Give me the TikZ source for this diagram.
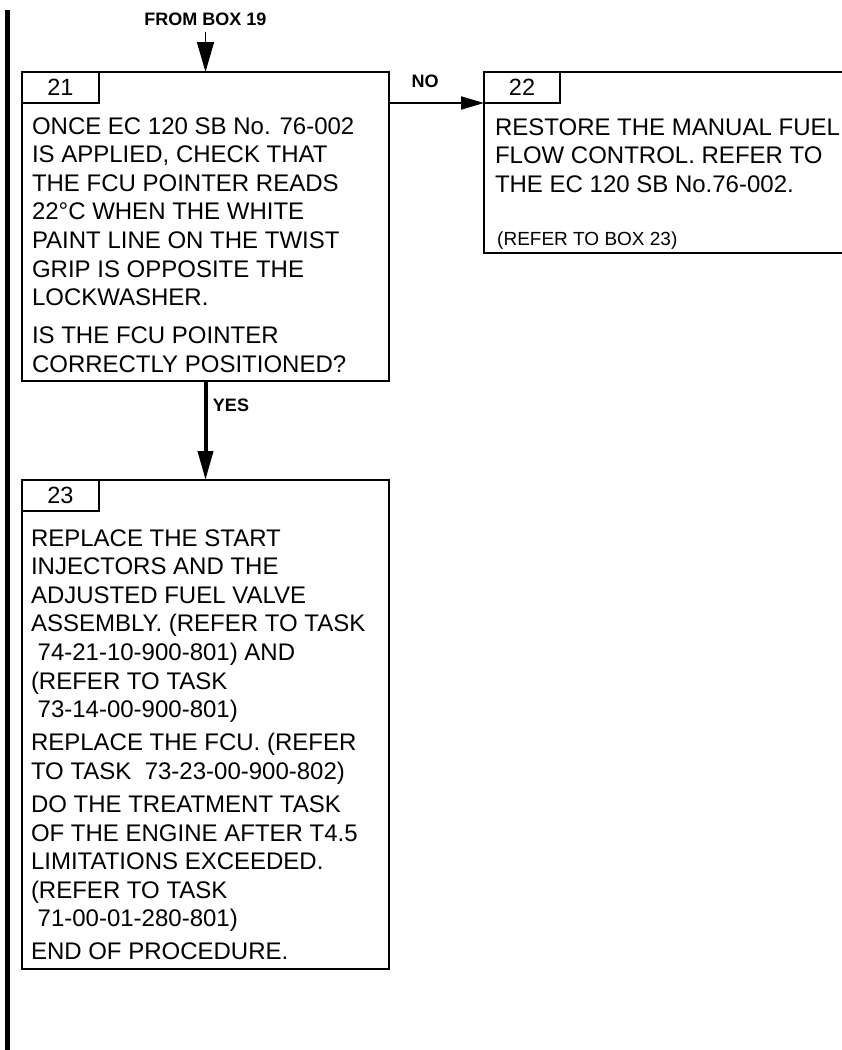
\documentclass[tikz,border=0pt]{standalone}
\usepackage{fontspec}
\setmainfont{Liberation Sans}
\usetikzlibrary{arrows.meta}

% text sizes (1pt = one unit of the drawing)
\newcommand\bodytext{\fontsize{24}{28.6}\selectfont}
\newcommand\labeltext{\fontsize{18}{21}\selectfont\bfseries}
\newcommand\notetext{\fontsize{19}{22}\selectfont}

\tikzset{
  stepframe/.style={draw, line width=2pt, rectangle, inner sep=0pt, outer sep=0pt, anchor=north west},
  numtab/.style={draw, line width=2pt, rectangle, inner sep=0pt, outer sep=0pt, anchor=north west,
                 minimum width=77pt, minimum height=31pt, font=\fontsize{23.5}{26}\selectfont},
  bodynode/.style={anchor=north west, inner sep=0pt, outer sep=0pt, align=left, font=\bodytext},
  notenode/.style={anchor=base west, inner sep=0pt, font=\notetext},
  branchlabel/.style={font=\labeltext, inner sep=0pt},
  feedarrow/.style={-{Triangle[length=30pt,width=17pt]}, line width=1.5pt},
  noarrow/.style={-{Triangle[length=23pt,width=13pt]}, line width=2pt},
  yesarrow/.style={-{Triangle[length=29pt,width=15pt]}, line width=4pt},
}

\begin{document}
\begin{tikzpicture}[x=1pt, y=-1pt]
\useasboundingbox (0,0) rectangle (842,1050);
\begin{scope}
\clip (0,0) rectangle (842,1050);

% margin bar
\coordinate (bartop) at (7,10);
\coordinate (barbot) at (7,1052);
\draw[line width=5pt] (bartop) -- (barbot);

% step 21
\node[stepframe, minimum width=367pt, minimum height=309pt] (b21) at (22,72) {};
\node[numtab] (t21) at (b21.north west) {21};
\node[bodynode] (x21) at ([shift={(10,42)}]b21.north west) {%
\strut ONCE EC 120 SB No. 76-002\\
IS APPLIED, CHECK THAT\\
THE FCU POINTER READS\\
22°C WHEN THE WHITE\\
PAINT LINE ON THE TWIST\\
GRIP IS OPPOSITE THE\\
LOCKWASHER.\\[9.5pt]
IS THE FCU POINTER\\
CORRECTLY POSITIONED?};

% step 22
\node[stepframe, minimum width=380pt, minimum height=181pt] (b22) at (484,72) {};
\node[numtab, minimum width=76pt] (t22) at (b22.north west) {22};
\node[bodynode] (x22) at ([shift={(11,43)}]b22.north west) {%
\strut RESTORE THE MANUAL FUEL\\
FLOW CONTROL. REFER TO\\
THE EC 120 SB No.76-002.};
\node[notenode] (n22) at ([shift={(13,173)}]b22.north west) {(REFER TO BOX 23)};

% step 23
\node[stepframe, minimum width=367pt, minimum height=489pt] (b23) at (22,480) {};
\node[numtab] (t23) at (b23.north west) {23};
\node[bodynode] (x23) at ([shift={(9,46)}]b23.north west) {%
\strut REPLACE THE START\\
INJECTORS AND THE\\
ADJUSTED FUEL VALVE\\
ASSEMBLY. (REFER TO TASK\\
\hspace*{6.7pt}74-21-10-900-801) AND\\
(REFER TO TASK\\
\hspace*{6.7pt}73-14-00-900-801)\\[4.5pt]
REPLACE THE FCU. (REFER\\
TO TASK\ \ 73-23-00-900-802)\\[4.5pt]
DO THE TREATMENT TASK\\
OF THE ENGINE AFTER T4.5\\
LIMITATIONS EXCEEDED.\\
(REFER TO TASK\\
\hspace*{6.7pt}71-00-01-280-801)\\[4.5pt]
END OF PROCEDURE.};

% connectors
\node[branchlabel, inner ysep=6pt] (from19) at (205.5,19) {FROM BOX 19};
\draw[feedarrow] (from19.south) -- (b21.north);

\node[branchlabel] (nolbl) at (425,81) {NO};
\draw[noarrow] (b21.east |- t22.south west) -- (t22.south west);

\node[branchlabel] (yeslbl) at (231,405) {YES};
\draw[yesarrow] (b21.south) -- (b23.north);

\end{scope}
\end{tikzpicture}
\end{document}
